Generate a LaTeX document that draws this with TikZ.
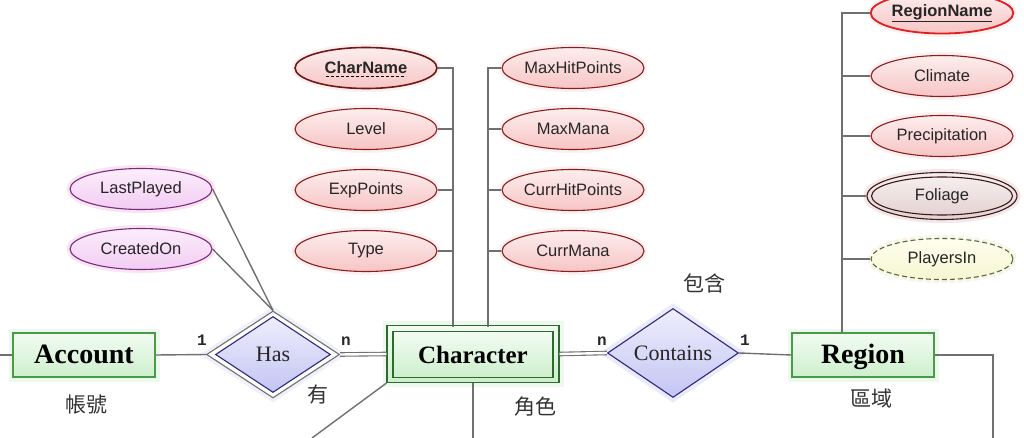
\documentclass[tikz,border=0pt]{standalone}
\usepackage{fontspec}
\setmainfont{Liberation Sans}
\newfontfamily\serifb{Liberation Serif}
\newfontfamily\cjk{Noto Sans CJK TC}
\newfontfamily\monob{Liberation Mono}
\usetikzlibrary{shapes.geometric}
\definecolor{lngray}{HTML}{707070}
\definecolor{entborder}{HTML}{4A9A4A}
\definecolor{entdark}{HTML}{2E6A2E}
\definecolor{enttop}{HTML}{F2FCF2}
\definecolor{entbot}{HTML}{CDEFCD}
\definecolor{atttop}{HTML}{FDEEEE}
\definecolor{attbot}{HTML}{F7C4C4}
\definecolor{attborder}{HTML}{8A1E1E}
\definecolor{keyred}{HTML}{E02020}
\definecolor{purtop}{HTML}{FCEEFC}
\definecolor{purbot}{HTML}{F2CCF2}
\definecolor{purborder}{HTML}{7A2A80}
\definecolor{foltop}{HTML}{F6EEEE}
\definecolor{folbot}{HTML}{E4D2D2}
\definecolor{folborder}{HTML}{3A1A1A}
\definecolor{yeltop}{HTML}{FEFEEE}
\definecolor{yelbot}{HTML}{F6F6D2}
\definecolor{yelborder}{HTML}{4E6E3E}
\definecolor{reltop}{HTML}{EEEEFC}
\definecolor{relbot}{HTML}{C4C4F4}
\definecolor{relborder}{HTML}{2A2A7A}
\tikzset{
  ln/.style={draw=lngray, line width=1.4pt},
  dbl/.style={draw=lngray, line width=1.1pt, double=white, double distance=2.4pt},
  attr/.style={ellipse, minimum width=142pt, minimum height=41pt, inner sep=0pt,
    top color=atttop, bottom color=attbot, draw=attborder, line width=1.1pt,
    font=\fontsize{16.5}{18}\selectfont, text=black!85,
    preaction={draw=attbot, line width=7pt, opacity=0.25}},
  purattr/.style={attr, top color=purtop, bottom color=purbot, draw=purborder,
    preaction={draw=purbot, line width=7pt, opacity=0.3}},
  entity/.style={rectangle, minimum width=142pt, minimum height=44pt, inner sep=0pt,
    text height=20pt, text depth=4pt,
    top color=enttop, bottom color=entbot, draw=entborder, line width=1.1pt,
    font=\serifb\bfseries\fontsize{28}{30}\selectfont,
    preaction={draw=entbot, line width=9pt, opacity=0.35}},
  rel/.style={diamond, inner sep=0pt, aspect=1.5,
    top color=reltop, bottom color=relbot, draw=relborder, line width=1.1pt,
    font=\serifb\fontsize{22}{24}\selectfont, text=black!85},
  cjktxt/.style={font=\cjk\fontsize{21}{23}\selectfont, text=black!80},
  card/.style={font=\monob\bfseries\fontsize{16}{18}\selectfont, text=black!85}
}
\begin{document}
\begin{tikzpicture}[x=1pt,y=-1pt]
\useasboundingbox (0,0) rectangle (1024,438);

% ---- entities ----
\node[entity] (acc) at (84,355) {Account};
\node[entity, minimum width=172pt, minimum height=57pt, draw=entdark] (char) at (473,354) {};
\node[rectangle, minimum width=160pt, minimum height=46pt, inner sep=0pt, draw=entdark, line width=1.1pt,
  top color=enttop, bottom color=entbot, font=\serifb\bfseries\fontsize{25}{27}\selectfont] (charin) at (473,354.5) {Character};
\node[entity] (reg) at (863,355) {Region};

% ---- relationships ----
\node[rel, draw=lngray, minimum width=133pt, minimum height=87pt, top color=white, bottom color=white,
  preaction={draw=relbot, line width=8pt, opacity=0.25}] (has) at (273,354.5) {};
\node[rel, minimum width=115pt, minimum height=76pt] (hasin) at (273,354.5) {Has};
\node[rel, minimum width=131pt, minimum height=89pt,
  preaction={draw=relbot, line width=9pt, opacity=0.35}] (cont) at (673,353) {Contains};

% ---- attributes of Account ----
\node[purattr] (lastp) at (141,189) {LastPlayed};
\node[purattr] (created) at (141,249) {CreatedOn};

% ---- attributes of Character ----
\node[attr, draw=attborder!80!black, line width=1.6pt] (cname) at (366,68) {\textbf{CharName}};
\draw[line width=1pt, dash pattern=on 3pt off 2pt] ([xshift=-40pt,yshift=-9pt]cname.center) -- ([xshift=40pt,yshift=-9pt]cname.center);
\node[attr] (level) at (366,129) {Level};
\node[attr] (exp) at (366,190) {ExpPoints};
\node[attr] (type) at (366,251) {Type};
\node[attr] (maxhp) at (573,68) {MaxHitPoints};
\node[attr] (maxmana) at (573,129) {MaxMana};
\node[attr] (currhp) at (573,190) {CurrHitPoints};
\node[attr] (currmana) at (573,251) {CurrMana};

% ---- attributes of Region ----
\node[attr, draw=keyred, line width=1.8pt] (rname) at (942,13) {\textbf{\underline{RegionName}}};
\node[attr] (climate) at (942,76) {Climate};
\node[attr] (precip) at (942,136) {Precipitation};
\node[attr, minimum width=150pt, minimum height=47pt, top color=foltop, bottom color=folbot, draw=folborder,
  preaction={draw=folbot, line width=7pt, opacity=0.3}] (foliage) at (942,196) {};
\node[ellipse, minimum width=141pt, minimum height=38pt, inner sep=0pt, draw=folborder, line width=1.1pt,
  top color=foltop, bottom color=folbot, font=\fontsize{16.5}{18}\selectfont, text=black!85] (folin) at (942,196) {Foliage};
\node[attr, top color=yeltop, bottom color=yelbot, draw=yelborder, dashed, dash pattern=on 5pt off 3pt,
  preaction={draw=yelbot, line width=7pt, opacity=0.3, solid}] (players) at (942,259) {PlayersIn};

% ---- coordinates for free ends / bends ----
\coordinate (l0) at (0,355);
\coordinate (cl) at (453,326.5);
\coordinate (cr) at (488,326.5);
\coordinate (rv) at (842,333);
\coordinate (cdl) at (312,438);
\coordinate (cdm) at (473,438);
\coordinate (rdn) at (993,438);

% ---- connectors ----
\draw[ln] (l0) -- (acc.west);
\draw[ln] (acc.east) -- (has.west);
\draw[dbl] (has.east) -- (char.west);
\draw[ln] (lastp.east) -- (has.north);
\draw[ln] (created.east) -- (has.north);
\draw[ln] (char.south west) -- (cdl);
\draw[ln] (char.south) -- (cdm);
\draw[ln] (cname.east) -| (cl);
\draw[ln] (level.east) -- (level.east -| cl);
\draw[ln] (exp.east) -- (exp.east -| cl);
\draw[ln] (type.east) -- (type.east -| cl);
\draw[ln] (maxhp.west) -| (cr);
\draw[ln] (maxmana.west) -- (maxmana.west -| cr);
\draw[ln] (currhp.west) -- (currhp.west -| cr);
\draw[ln] (currmana.west) -- (currmana.west -| cr);
\draw[dbl] (char.east) -- (cont.west);
\draw[ln] (cont.east) -- (reg.west);
\draw[ln] (reg.east) -| (rdn);
\draw[ln] (rname.west) -| (rv);
\draw[ln] (climate.west) -- (climate.west -| rv);
\draw[ln] (precip.west) -- (precip.west -| rv);
\draw[ln] (foliage.west) -- (foliage.west -| rv);
\draw[ln] (players.west) -- (players.west -| rv);

% ---- cardinalities ----
\node[card] (c1) at (202,340) {1};
\node[card] (c2) at (346,341) {n};
\node[card] (c3) at (602,341) {n};
\node[card] (c4) at (745,340) {1};

% ---- Chinese labels ----
\node[cjktxt] (t1) at (86,405) {帳號};
\node[cjktxt] (t2) at (318,395) {有};
\node[cjktxt] (t3) at (535,407) {角色};
\node[cjktxt] (t4) at (704,283) {包含};
\node[cjktxt] (t5) at (871,399) {區域};
\end{tikzpicture}
\end{document}
